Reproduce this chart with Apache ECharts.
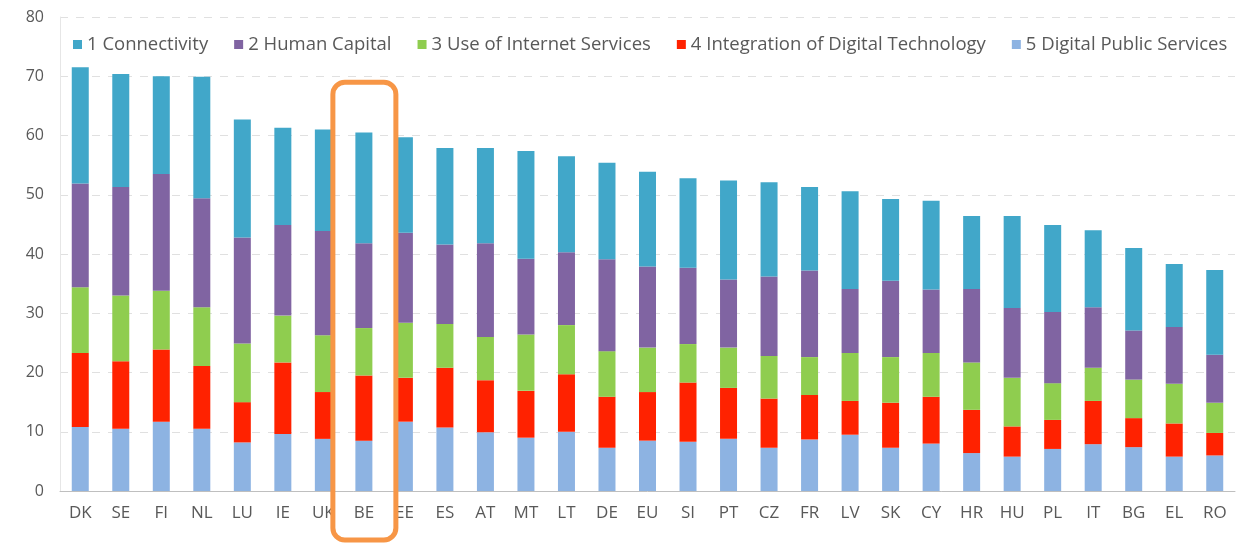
<!DOCTYPE html>
<html>
<head>
<meta charset="utf-8">
<script src="https://cdn.jsdelivr.net/npm/echarts@6/dist/echarts.min.js"></script>
<style>
  html, body { margin: 0; padding: 0; background: #fff; }
  #chart { width: 1240px; height: 543px; }
</style>
</head>
<body>
<div id="chart"></div>
<script>
const countries = ["DK", "SE", "FI", "NL", "LU", "IE", "UK", "BE", "EE", "ES", "AT", "MT", "LT", "DE", "EU",
  "SI", "PT", "CZ", "FR", "LV", "SK", "CY", "HR", "HU", "PL", "IT", "BG", "EL", "RO"];

const connectivity = [19.6, 19.1, 16.5, 20.5, 19.9, 16.4, 17.1, 18.7, 16.1, 16.3, 16.1, 18.2, 16.2, 16.3, 16.0,
  15.1, 16.7, 15.9, 14.1, 16.5, 13.8, 15.0, 12.3, 15.5, 14.7, 13.0, 13.9, 10.6, 14.3];
const humanCapital = [17.5, 18.3, 19.7, 18.4, 17.9, 15.3, 17.6, 14.3, 15.2, 13.4, 15.8, 12.8, 12.3, 15.5, 13.7,
  12.9, 11.5, 13.4, 14.6, 10.8, 12.9, 10.7, 12.4, 11.8, 12.0, 10.2, 8.3, 9.6, 8.1];
const internetUse = [11.1, 11.1, 9.9, 9.9, 9.9, 7.9, 9.6, 8.0, 9.3, 7.4, 7.3, 9.5, 8.3, 7.7, 7.5,
  6.5, 6.8, 7.2, 6.4, 8.1, 7.7, 7.4, 8.0, 8.2, 6.2, 5.6, 6.5, 6.7, 5.1];
const digitalTech = [12.5, 11.4, 12.2, 10.6, 6.8, 12.1, 7.9, 11.0, 7.4, 10.1, 8.8, 7.9, 9.7, 8.6, 8.2,
  10.0, 8.6, 8.3, 7.5, 5.7, 7.6, 7.9, 7.3, 5.1, 4.9, 7.3, 4.9, 5.6, 3.8];
const publicServices = [10.8, 10.5, 11.7, 10.5, 8.2, 9.6, 8.8, 8.5, 11.7, 10.7, 9.9, 9.0, 10.0, 7.3, 8.5,
  8.3, 8.8, 7.3, 8.7, 9.5, 7.3, 8.0, 6.4, 5.8, 7.1, 7.9, 7.4, 5.8, 6.0];

const seriesNames = ["1 Connectivity", "2 Human Capital", "3 Use of Internet Services",
  "4 Integration of Digital Technology", "5 Digital Public Services"];
const highlighted = "BE";

const chart = echarts.init(document.getElementById("chart"));

function barSeries(name, data, color) {
  return { name, type: "bar", stack: "desi", barWidth: 17, data, itemStyle: { color } };
}

chart.setOption({
  animation: false,
  textStyle: { fontFamily: "Open Sans, sans-serif" },
  legend: {
    data: seriesNames,
    top: 30,
    left: 68,
    itemWidth: 9,
    itemHeight: 9,
    itemGap: 26,
    icon: "rect",
    textStyle: { color: "#595959", fontSize: 18.5 }
  },
  grid: { left: 60, right: 5, top: 17, bottom: 52 },
  xAxis: {
    type: "category",
    data: countries,
    axisLine: { lineStyle: { color: "#bfbfbf" } },
    axisTick: { lineStyle: { color: "#bfbfbf" }, length: 5 },
    axisLabel: { color: "#595959", fontSize: 17, margin: 14, interval: 0 }
  },
  yAxis: {
    type: "value",
    min: 0,
    max: 80,
    interval: 10,
    axisLine: { show: true, lineStyle: { color: "#e6e6e6" } },
    axisTick: { show: false },
    axisLabel: { color: "#595959", fontSize: 16, margin: 16 },
    splitLine: { lineStyle: { color: "#e0e0e0", type: [8, 8] } }
  },
  series: [
    barSeries(seriesNames[4], publicServices, "#8db3e2"),
    barSeries(seriesNames[3], digitalTech, "#ff2200"),
    barSeries(seriesNames[2], internetUse, "#8fcd4f"),
    barSeries(seriesNames[1], humanCapital, "#8064a2"),
    barSeries(seriesNames[0], connectivity, "#41a7c9")
  ]
});

// orange highlight box around BE, placed from the axis scale
const cx = chart.convertToPixel({ xAxisIndex: 0 }, highlighted);
const topY = chart.convertToPixel({ yAxisIndex: 0 }, 69);
chart.setOption({
  graphic: [{
    type: "rect",
    shape: { x: cx - 31, y: topY, width: 63, height: 540 - topY, r: 12 },
    style: { fill: "none", stroke: "#f79646", lineWidth: 5 },
    z: 100
  }]
});
</script>
</body>
</html>
